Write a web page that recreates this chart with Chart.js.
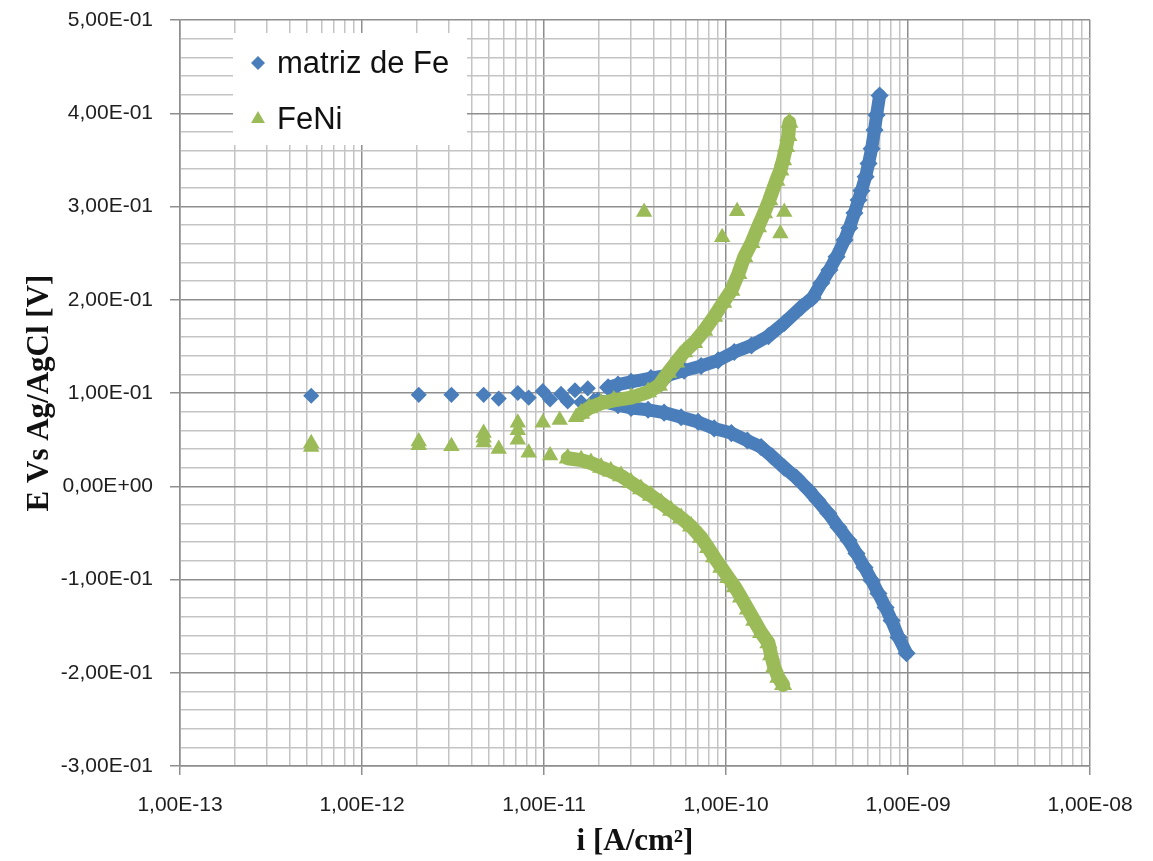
<!DOCTYPE html>
<html>
<head>
<meta charset="utf-8">
<title>Curvas de polarización</title>
<script src="https://cdn.jsdelivr.net/npm/chart.js@4.4.1/dist/chart.umd.min.js"></script>
<style>
  html, body { margin: 0; padding: 0; background: #ffffff; }
  #wrap { width: 1153px; height: 861px; }
</style>
</head>
<body>
<div id="wrap"><canvas id="chart" width="1153" height="861"></canvas></div>
<script>
// matriz de Fe: scattered points near Ecorr, anodic and cathodic branches
const feSparseI = [5.26e-13, 2.05e-12, 3.1e-12, 4.66e-12, 5.64e-12, 7.18e-12, 8.24e-12, 9.85e-12, 1.08e-11, 1.24e-11, 1.35e-11, 1.48e-11, 1.60e-11, 1.74e-11, 1.88e-11]
const feSparseE = [0.097, 0.098, 0.098, 0.098, 0.094, 0.100, 0.095, 0.102, 0.093, 0.099, 0.091, 0.103, 0.090, 0.105, 0.092]

const feAnodicI = [2.25e-11, 2.55e-11, 3.01e-11, 3.87e-11, 4.81e-11, 5.89e-11, 7.30e-11, 9.06e-11, 1.11e-10, 1.38e-10, 1.71e-10, 2.09e-10, 2.59e-10, 2.99e-10, 3.34e-10, 3.70e-10, 4.05e-10, 4.48e-10, 4.76e-10, 5.08e-10, 5.35e-10, 5.55e-10, 5.85e-10, 6.07e-10, 6.31e-10, 6.55e-10, 6.72e-10, 6.98e-10]
const feAnodicE = [0.106, 0.109, 0.112, 0.116, 0.119, 0.124, 0.129, 0.135, 0.144, 0.151, 0.161, 0.175, 0.192, 0.202, 0.218, 0.232, 0.246, 0.264, 0.277, 0.293, 0.307, 0.317, 0.332, 0.346, 0.362, 0.382, 0.398, 0.419]

const feCathodicI = [1.98e-11, 2.55e-11, 3.01e-11, 3.73e-11, 4.57e-11, 5.67e-11, 7.03e-11, 8.61e-11, 1.07e-10, 1.31e-10, 1.56e-10, 1.79e-10, 2.09e-10, 2.44e-10, 2.84e-10, 3.18e-10, 3.65e-10, 4.15e-10, 4.71e-10, 5.21e-10, 5.77e-10, 6.31e-10, 6.88e-10, 7.53e-10, 8.12e-10, 8.87e-10, 9.82e-10]
const feCathodicE = [0.092, 0.087, 0.084, 0.082, 0.079, 0.074, 0.069, 0.062, 0.057, 0.049, 0.042, 0.032, 0.020, 0.009, -0.004, -0.015, -0.029, -0.044, -0.058, -0.072, -0.087, -0.101, -0.115, -0.130, -0.144, -0.162, -0.179]

// FeNi
const feniSparseI = [5.26e-13, 5.26e-13, 2.05e-12, 2.05e-12, 3.1e-12, 4.66e-12, 4.66e-12, 4.66e-12, 5.64e-12, 7.18e-12, 7.18e-12, 7.18e-12, 8.24e-12, 9.85e-12, 1.08e-11, 1.22e-11, 1.50e-11, 3.55e-11, 9.53e-11, 1.15e-10, 1.99e-10, 2.09e-10]
const feniSparseE = [0.042, 0.046, 0.044, 0.048, 0.043, 0.057, 0.052, 0.047, 0.040, 0.068, 0.060, 0.050, 0.036, 0.068, 0.033, 0.071, 0.074, 0.294, 0.267, 0.295, 0.271, 0.294]

const feniAnodicI = [1.60e-11, 1.77e-11, 2.06e-11, 2.42e-11, 3.01e-11, 3.73e-11, 4.28e-11, 4.81e-11, 5.32e-11, 5.89e-11, 6.68e-11, 7.59e-11, 8.61e-11, 9.66e-11, 1.07e-10, 1.17e-10, 1.26e-10, 1.38e-10, 1.50e-10, 1.62e-10, 1.73e-10, 1.89e-10, 1.99e-10, 2.06e-10, 2.14e-10, 2.20e-10, 2.23e-10]
const feniAnodicE = [0.078, 0.084, 0.089, 0.092, 0.095, 0.101, 0.108, 0.122, 0.133, 0.144, 0.154, 0.167, 0.182, 0.197, 0.210, 0.228, 0.246, 0.261, 0.278, 0.293, 0.307, 0.328, 0.339, 0.350, 0.364, 0.376, 0.390]

const feniCathodicI = [1.35e-11, 1.60e-11, 1.81e-11, 2.06e-11, 2.33e-11, 2.65e-11, 3.01e-11, 3.41e-11, 3.87e-11, 4.40e-11, 4.99e-11, 5.67e-11, 6.43e-11, 7.30e-11, 7.98e-11, 8.61e-11, 9.42e-11, 1.03e-10, 1.12e-10, 1.21e-10, 1.32e-10, 1.43e-10, 1.56e-10, 1.71e-10, 1.77e-10, 1.84e-10, 1.94e-10, 2.06e-10]
const feniCathodicE = [0.030, 0.028, 0.025, 0.020, 0.016, 0.011, 0.004, -0.003, -0.010, -0.018, -0.026, -0.034, -0.043, -0.055, -0.066, -0.076, -0.087, -0.098, -0.108, -0.119, -0.132, -0.144, -0.157, -0.168, -0.181, -0.194, -0.205, -0.213]

const seriesNames = ["matriz de Fe", "FeNi"]

// axis ticks
const xDecades = [1e-13, 1e-12, 1e-11, 1e-10, 1e-9, 1e-8]
const xMinorSteps = [2, 3, 4, 5, 6, 7, 8, 9]
const yMajorTicks = [-0.3, -0.2, -0.1, 0, 0.1, 0.2, 0.3, 0.4, 0.5]
const yMinorPerMajor = 5

const BLUE = "#4a7ebb"
const GREEN = "#9bbb59"
const GRID_MAJOR = "#8e8e8e"
const GRID_MINOR = "#c4c4c4"

const zip = (xs, ys) => xs.map((x, i) => ({ x: x, y: ys[i] }))

// "5,00E-01" style labels, like the spreadsheet did
function sci(v) {
  if (Math.abs(v) < 1e-15) return "0,00E+00"
  const parts = v.toExponential(2).split("e")
  const exp = parseInt(parts[1], 10)
  return parts[0].replace(".", ",") + "E" + (exp < 0 ? "-" : "+") + String(Math.abs(exp)).padStart(2, "0")
}

function buildXTicks() {
  const ticks = []
  xDecades.forEach((d, i) => {
    ticks.push({ value: d, isMajor: true })
    if (i < xDecades.length - 1) {
      xMinorSteps.forEach((s) => ticks.push({ value: s * d, isMajor: false }))
    }
  })
  return ticks
}

function buildYTicks() {
  const ticks = []
  yMajorTicks.forEach((v, i) => {
    ticks.push({ value: v, isMajor: true })
    if (i < yMajorTicks.length - 1) {
      const step = (yMajorTicks[i + 1] - v) / yMinorPerMajor
      for (let k = 1; k < yMinorPerMajor; k++) {
        ticks.push({ value: Math.round((v + k * step) * 1000) / 1000, isMajor: false })
      }
    }
  })
  return ticks
}

const gridColor = (ctx) => (ctx.tick && ctx.tick.isMajor ? GRID_MAJOR : GRID_MINOR)
const tickColor = (ctx) => (ctx.tick && ctx.tick.isMajor ? GRID_MAJOR : "rgba(0,0,0,0)")

// legend box inside the plot area, white background over the grid
const insideLegend = {
  id: "insideLegend",
  afterDatasetsDraw(chart) {
    const { ctx, chartArea } = chart
    const left = chartArea.left + 53
    const top = chartArea.top + 13
    ctx.save()
    ctx.fillStyle = "#ffffff"
    ctx.fillRect(left, top, 234, 112)

    const rows = [
      { name: seriesNames[0], color: BLUE, style: "rectRot", radius: 7, y: top + 29 },
      { name: seriesNames[1], color: GREEN, style: "triangle", radius: 8, y: top + 85 }
    ]
    rows.forEach((r) => {
      ctx.fillStyle = r.color
      ctx.strokeStyle = r.color
      Chart.helpers.drawPoint(ctx, { pointStyle: r.style, radius: r.radius, rotation: 0, borderWidth: 0 }, left + 25, r.y + 1)
      ctx.fillStyle = "#111111"
      ctx.font = "31px 'Liberation Sans', Arial, sans-serif"
      ctx.textAlign = "left"
      ctx.textBaseline = "middle"
      ctx.fillText(r.name, left + 44, r.y + 2)
    })
    ctx.restore()
  }
}

const pointDefaults = { pointBorderWidth: 1.5, pointHoverRadius: 0 }
const lineDefaults = { showLine: true, borderJoinStyle: "round", borderCapStyle: "round" }

new Chart(document.getElementById("chart"), {
  type: "scatter",
  data: {
    datasets: [
      Object.assign({ label: seriesNames[1], data: zip(feniSparseI, feniSparseE), pointStyle: "triangle", pointRadius: 8, backgroundColor: GREEN, borderColor: GREEN, showLine: false, order: 0 }, pointDefaults),
      Object.assign({ label: seriesNames[1], data: zip(feniAnodicI, feniAnodicE), pointStyle: "triangle", pointRadius: 9, backgroundColor: GREEN, borderColor: GREEN, borderWidth: 14, order: 0 }, pointDefaults, lineDefaults),
      Object.assign({ label: seriesNames[1], data: zip(feniCathodicI, feniCathodicE), pointStyle: "triangle", pointRadius: 9, backgroundColor: GREEN, borderColor: GREEN, borderWidth: 14, order: 0 }, pointDefaults, lineDefaults),
      Object.assign({ label: seriesNames[0], data: zip(feSparseI, feSparseE), pointStyle: "rectRot", pointRadius: 7, backgroundColor: BLUE, borderColor: BLUE, showLine: false, order: 1 }, pointDefaults),
      Object.assign({ label: seriesNames[0], data: zip(feAnodicI, feAnodicE), pointStyle: "rectRot", pointRadius: 8, backgroundColor: BLUE, borderColor: BLUE, borderWidth: 13, order: 1 }, pointDefaults, lineDefaults),
      Object.assign({ label: seriesNames[0], data: zip(feCathodicI, feCathodicE), pointStyle: "rectRot", pointRadius: 8, backgroundColor: BLUE, borderColor: BLUE, borderWidth: 13, order: 1 }, pointDefaults, lineDefaults)
    ]
  },
  options: {
    responsive: false,
    maintainAspectRatio: false,
    animation: false,
    devicePixelRatio: 1,
    events: [],
    layout: { padding: { left: 0, top: 20, right: 63, bottom: 0 } },
    elements: { line: { tension: 0 } },
    plugins: {
      legend: { display: false },
      tooltip: { enabled: false }
    },
    scales: {
      x: {
        type: "logarithmic",
        position: "bottom",
        min: 1e-13,
        max: 1e-8,
        afterBuildTicks: (scale) => { scale.ticks = buildXTicks() },
        afterFit: (scale) => {
          scale.height = 95
          scale.paddingLeft = 0
          scale.paddingRight = 0
        },
        grid: { color: gridColor, lineWidth: 1.5, tickLength: 9, tickColor: tickColor, tickWidth: 1.5 },
        border: { color: GRID_MAJOR, width: 1.5 },
        ticks: {
          autoSkip: false,
          maxRotation: 0,
          padding: 18,
          color: "#1e1e1e",
          font: { family: "'Liberation Sans', Arial, sans-serif", size: 21 },
          callback: (value, index, ticks) => (ticks[index].isMajor ? sci(value) : "")
        },
        title: {
          display: true,
          text: "i [A/cm²]",
          color: "#111111",
          font: { family: "'Liberation Serif', 'Times New Roman', serif", size: 31, weight: "bold" },
          padding: { top: 0, bottom: 0 }
        }
      },
      y: {
        type: "linear",
        position: "left",
        min: -0.3,
        max: 0.5,
        afterBuildTicks: (scale) => { scale.ticks = buildYTicks() },
        afterFit: (scale) => {
          scale.width = 180
          scale.paddingTop = 0
          scale.paddingBottom = 0
        },
        grid: { color: gridColor, lineWidth: 1.5, tickLength: 10, tickColor: tickColor, tickWidth: 1.5 },
        border: { color: GRID_MAJOR, width: 1.5 },
        ticks: {
          autoSkip: false,
          padding: 17,
          color: "#1e1e1e",
          font: { family: "'Liberation Sans', Arial, sans-serif", size: 21 },
          callback: (value, index, ticks) => (ticks[index].isMajor ? sci(value) : "")
        },
        title: {
          display: true,
          text: "E Vs Ag/AgCl [V]",
          color: "#111111",
          font: { family: "'Liberation Serif', 'Times New Roman', serif", size: 31, weight: "bold" },
          padding: { top: 21, bottom: 0 }
        }
      }
    }
  },
  plugins: [insideLegend]
})
</script>
</body>
</html>
